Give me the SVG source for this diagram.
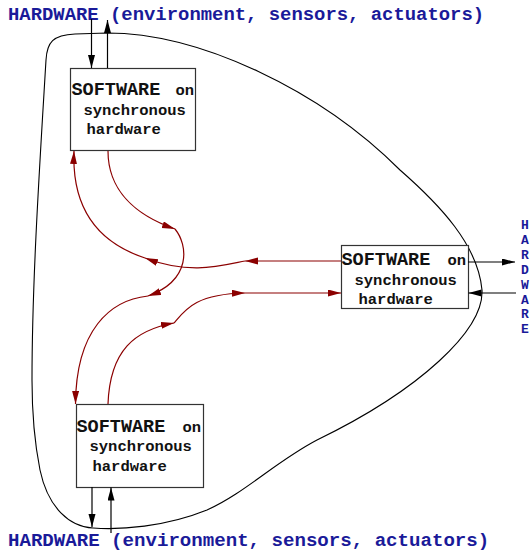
<svg xmlns="http://www.w3.org/2000/svg" width="532" height="551" viewBox="0 0 532 551">
  <style>
    .hw { font-family: "Liberation Mono", "Courier New", monospace; font-weight: bold; fill: #1a1a99; }
    .big { font-family: "Liberation Mono", "Courier New", monospace; font-weight: bold; font-size: 18.5px; fill: #111; }
    .small { font-family: "Liberation Mono", "Courier New", monospace; font-weight: bold; font-size: 15.5px; fill: #111; }
    .box { fill: #fff; stroke: #333; stroke-width: 1.2; }
    .io { fill: none; stroke: #000; stroke-width: 1.2; }
    .flow { fill: none; stroke: #8b0000; stroke-width: 1.2; }
    .env { fill: none; stroke: #000; stroke-width: 1.1; }
  </style>
  <defs>
    <marker id="arrowBlack" markerUnits="userSpaceOnUse" markerWidth="14" markerHeight="8" refX="13" refY="3.5" orient="auto">
      <path d="M0,0 L13,3.5 L0,7 Z" fill="#000"/>
    </marker>
    <marker id="arrowRed" markerUnits="userSpaceOnUse" markerWidth="14" markerHeight="8" refX="13" refY="3.5" orient="auto">
      <path d="M0,0 L13,3.5 L0,7 Z" fill="#8b0000"/>
    </marker>
  </defs>

  <!-- environment boundary -->
  <path id="environment" class="env" d="M 107,33 C 200,33 320,90 400,170 C 440,205 478,245 482,290 C 484,330 420,390 317,440 C 275,462 245,493 207,510 C 165,527 120,530 93,528 C 70,527 48,508 40,470 C 36,450 32,420 32,380 C 32,280 40,160 46,60 C 47,42 53,35 75,34 Z"/>

  <!-- labels -->
  <text class="hw" x="8" y="20" font-size="18.9">HARDWARE (environment, sensors, actuators)</text>
  <text class="hw" x="8" y="545.5" font-size="19.1">HARDWARE (environment, sensors, actuators)</text>
  <g class="hw" font-size="13" text-anchor="middle">
    <text x="525" y="229">H</text>
    <text x="525" y="244">A</text>
    <text x="525" y="259">R</text>
    <text x="525" y="273.5">D</text>
    <text x="525" y="288.5">W</text>
    <text x="525" y="303.5">A</text>
    <text x="525" y="318">R</text>
    <text x="525" y="333">E</text>
  </g>

  <!-- software nodes -->
  <g id="node-top">
    <rect class="box" x="70.5" y="68.5" width="125" height="82"/>
    <text class="big" x="71.5" y="95">SOFTWARE</text>
    <text class="small" x="175.5" y="95">on</text>
    <text class="small" x="83.5" y="115">synchronous</text>
    <text class="small" x="86.5" y="134">hardware</text>
  </g>
  <g id="node-right">
    <rect class="box" x="341.5" y="245.5" width="127" height="63"/>
    <text class="big" x="341.5" y="265">SOFTWARE</text>
    <text class="small" x="447.5" y="265">on</text>
    <text class="small" x="354.5" y="285">synchronous</text>
    <text class="small" x="358.5" y="304">hardware</text>
  </g>
  <g id="node-bottom">
    <rect class="box" x="76.5" y="404.5" width="127" height="83"/>
    <text class="big" x="76.5" y="432">SOFTWARE</text>
    <text class="small" x="182.5" y="432">on</text>
    <text class="small" x="89.5" y="451">synchronous</text>
    <text class="small" x="92.5" y="471">hardware</text>
  </g>

  <g id="connectors">
    <!-- sensor / actuator links -->
    <path class="io" d="M 91.5,19 L 91.5,68" marker-end="url(#arrowBlack)"/>
    <path class="io" d="M 107.5,68 L 107.5,20" marker-end="url(#arrowBlack)"/>
    <path class="io" d="M 468,262 L 515,262" marker-end="url(#arrowBlack)"/>
    <path class="io" d="M 516,293 L 468.5,293" marker-end="url(#arrowBlack)"/>
    <path class="io" d="M 92,487 L 92,527" marker-end="url(#arrowBlack)"/>
    <path class="io" d="M 111,533 L 111,487.5" marker-end="url(#arrowBlack)"/>

    <!-- top node to bottom node -->
    <path class="flow" d="M 108,151 C 108,190 135,215 175,229" marker-end="url(#arrowRed)"/>
    <path class="flow" d="M 175,229 C 188,245 192,280 148,296" marker-end="url(#arrowRed)"/>
    <path class="flow" d="M 148,296 C 110,300 76,330 75.5,404" marker-end="url(#arrowRed)"/>

    <!-- right node to top node -->
    <path class="flow" d="M 341,261 L 245,261" marker-end="url(#arrowRed)"/>
    <path class="flow" d="M 245,261 C 220,266 190,275 145,258" marker-end="url(#arrowRed)"/>
    <path class="flow" d="M 145,258 C 90,240 72,200 74,151" marker-end="url(#arrowRed)"/>

    <!-- bottom node to right node -->
    <path class="flow" d="M 108,404 C 110,350 135,330 174,323" marker-end="url(#arrowRed)"/>
    <path class="flow" d="M 174,323 C 185,310 195,294 245,293" marker-end="url(#arrowRed)"/>
    <path class="flow" d="M 245,293 L 341,293" marker-end="url(#arrowRed)"/>
  </g>
</svg>
